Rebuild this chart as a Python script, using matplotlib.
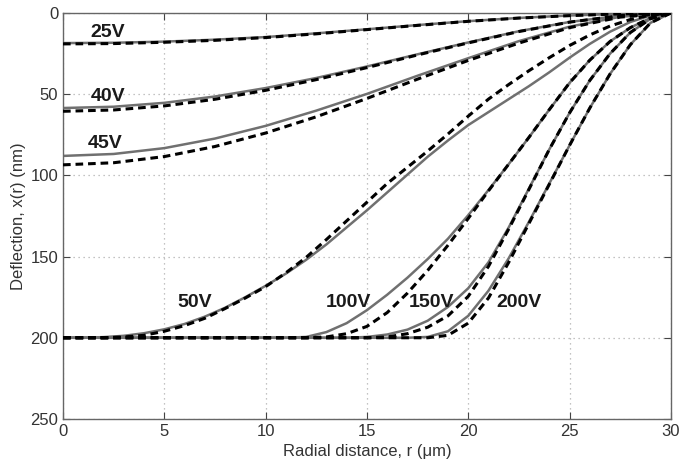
import matplotlib
matplotlib.use("Agg")
import matplotlib.pyplot as plt

plt.rcParams['font.family'] = ['Liberation Sans', 'DejaVu Sans']

# --- data (r in um, deflection in nm) ---
r_low = [0, 2.5, 5, 7.5, 10, 12.5, 15, 17.5, 20, 22.5, 25, 27.5, 30]
v25_model = [18.5, 18.3, 17.6, 16.4, 14.8, 12.5, 10.0, 7.4, 5.0, 3.0, 1.5, 0.5, 0]
v25_meas = [19.0, 18.8, 18.0, 16.8, 15.1, 12.8, 10.2, 7.6, 5.1, 3.1, 1.6, 0.5, 0]
v40_model = [58.5, 57.7, 55.3, 51.4, 46.2, 40.0, 32.9, 25.4, 18.1, 11.2, 5.5, 1.6, 0]
v40_meas = [60.5, 59.7, 57.2, 53.1, 47.6, 41.0, 33.6, 25.8, 18.4, 11.4, 5.6, 1.6, 0]
v45_model = [88.0, 86.8, 83.2, 77.3, 69.5, 60.1, 49.8, 38.6, 27.8, 17.3, 8.4, 2.3, 0]
v45_meas = [93.5, 92.2, 88.4, 82.2, 73.9, 63.9, 52.6, 40.7, 29.2, 18.5, 9.0, 2.5, 0]

r_50 = list(range(0, 31))
v50_model = [200, 200, 199.6, 198.8, 197.2, 194.8, 191.5, 187, 181.5, 175, 168,
             160.5, 152, 142.5, 132, 121.5, 110.5, 99.5, 88.5, 78.5, 69,
             61, 53, 45, 36.5, 27.5, 19, 11.5, 5.5, 1.5, 0]
v50_meas = [200, 200, 200, 199.5, 198.5, 196, 192.5, 188, 182, 175.5, 168.5,
            160, 150.5, 139.5, 128, 116.5, 105, 95, 85, 74.5, 63.5,
            53, 44, 35.5, 27.5, 20, 13.5, 8, 4, 1.2, 0]

r_hi = [0, 11, 12, 13, 14, 15, 16, 17, 18, 19, 20, 21, 22, 23, 24, 25, 26, 27, 28, 29, 30]
v100_model = [200, 200, 199.5, 196.5, 191, 183, 173.5, 163, 151.5, 139, 124.5,
              109, 93, 76.5, 59.5, 43, 29, 17.5, 9, 3, 0]
v100_meas = [200, 200, 200, 199.5, 197.5, 193, 184.5, 172.5, 158.5, 143, 126.5,
             109.5, 93, 76.5, 59.5, 43, 29, 17.5, 9, 3, 0]
v150_model = [200, 200, 200, 200, 200, 199.5, 198, 195, 189.5, 181, 169.5,
              153.5, 132, 108, 84, 61.5, 41.5, 25, 12, 3.5, 0]
v150_meas = [200, 200, 200, 200, 200, 200, 199.5, 197.5, 193.5, 186.5, 174.5,
             156, 133, 108.5, 84, 61.5, 41.5, 25, 12, 3.5, 0]
v200_model = [200, 200, 200, 200, 200, 200, 200, 200, 199.5, 196, 186.5,
              171, 151, 128.5, 105, 81.5, 58.5, 37.5, 19.5, 6, 0]
v200_meas = [200, 200, 200, 200, 200, 200, 200, 200, 200, 198.5, 191,
             175.5, 153.5, 129.5, 105.5, 81.5, 58.5, 37.5, 19.5, 6, 0]

labels = ['25V', '40V', '45V', '50V', '100V', '150V', '200V']
label_x = [2.2, 2.2, 2.1, 6.5, 14.1, 18.2, 22.5]
label_y = [12, 51.5, 80.5, 178, 178, 178, 178]

series = [
    (r_low, v25_model, v25_meas),
    (r_low, v40_model, v40_meas),
    (r_low, v45_model, v45_meas),
    (r_50, v50_model, v50_meas),
    (r_hi, v100_model, v100_meas),
    (r_hi, v150_model, v150_meas),
    (r_hi, v200_model, v200_meas),
]

fig = plt.figure(figsize=(6.79, 4.66), dpi=100)
ax = fig.add_axes([0.0928, 0.101, 0.8952, 0.871])

for r, model, meas in series:
    ax.plot(r, model, color='#707070', lw=1.8, zorder=2)
    ax.plot(r, meas, color='black', lw=2.2, dashes=(2.5, 1.6), zorder=3)

for txt, x, y in zip(labels, label_x, label_y):
    ax.text(x, y, txt, fontsize=14, fontweight='bold', color='#1a1a1a',
            ha='center', va='center', zorder=4)

ax.set_xlim(0, 30)
ax.set_ylim(250, 0)
ax.set_xticks([0, 5, 10, 15, 20, 25, 30])
ax.set_yticks([0, 50, 100, 150, 200, 250])
ax.grid(True, linestyle=(0, (1, 3)), color='#b0b0b0', lw=0.9)
ax.tick_params(direction='in', top=True, right=True, length=5,
               labelsize=12, colors='#444444', labelcolor='#333333')
for sp in ax.spines.values():
    sp.set_color('#666666')
    sp.set_linewidth(1.0)

ax.set_xlabel('Radial distance, r (μm)', fontsize=12, color='#333333', labelpad=4)
ax.set_ylabel('Deflection, x(r) (nm)', fontsize=12, color='#333333', labelpad=3)

fig.savefig('out.png', dpi=100)
